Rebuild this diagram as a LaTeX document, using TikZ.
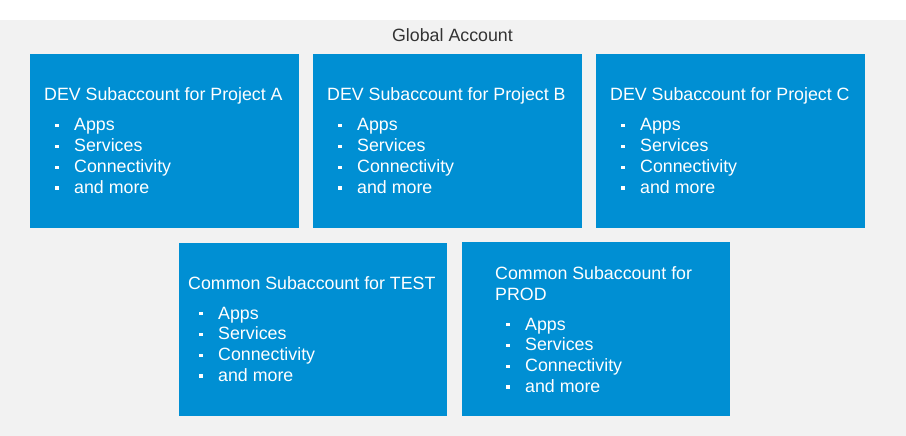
\documentclass[tikz,border=0pt]{standalone}
\usepackage{fontspec}
\setmainfont{Liberation Sans}
\definecolor{sapblue}{RGB}{0,143,211}
\definecolor{bggrey}{RGB}{242,242,242}
\definecolor{txtgrey}{RGB}{51,51,51}
\tikzset{
  acct/.style={fill=sapblue, draw=none, inner sep=0pt, anchor=north west},
  ttl/.style={text=white, anchor=base west, inner sep=0pt, font=\fontsize{17.8}{17.8}\selectfont},
  itm/.style={text=white, anchor=base west, inner sep=0pt, font=\fontsize{17.8}{17.8}\selectfont},
  bul/.style={fill=white, draw=none, minimum size=3.2pt, inner sep=0pt},
}
\newcommand{\itemlist}[4]{% name prefix, bullet x, text x, first baseline y
  \foreach \t [count=\i] in {Apps,Services,Connectivity,and more}{
    \node[itm] (#1i\i) at (#3, {-(#4+(\i-1)*20.8)}) {\t};
    \node[bul] (#1b\i) at (#2, {-(#4+(\i-1)*20.8-5.5)}) {};
  }
}
\begin{document}
\begin{tikzpicture}[x=1pt,y=1pt]
\useasboundingbox (0,0) rectangle (906,-436);
\fill[white] (0,0) rectangle (906,-436);
\fill[bggrey] (0,-20) rectangle (906,-436);
\node[text=txtgrey, anchor=base, inner sep=0pt, font=\fontsize{17.8}{17.8}\selectfont] (glob) at (452.5,-42) {Global Account};
% top row
\node[acct, minimum width=269pt, minimum height=174pt] (boxA) at (30,-54) {};
\node[acct, minimum width=269pt, minimum height=174pt] (boxB) at (313,-54) {};
\node[acct, minimum width=269pt, minimum height=174pt] (boxC) at (596,-54) {};
\node[ttl] (tA) at (44,-101) {DEV Subaccount for Project A};
\node[ttl] (tB) at (327,-101) {DEV Subaccount for Project B};
\node[ttl] (tC) at (610,-101) {DEV Subaccount for Project C};
\itemlist{A}{57}{74}{131}
\itemlist{B}{340}{357}{131}
\itemlist{C}{623}{640}{131}
% bottom row
\node[acct, minimum width=268pt, minimum height=173pt] (boxT) at (179,-243) {};
\node[acct, minimum width=268pt, minimum height=174pt] (boxP) at (462,-242) {};
\node[ttl] (tT) at (188,-289) {Common Subaccount for TEST};
\node[ttl] (tP1) at (495,-279) {Common Subaccount for};
\node[ttl] (tP2) at (495,-300) {PROD};
\itemlist{T}{201}{218}{319}
\itemlist{P}{508}{525}{330}
\end{tikzpicture}
\end{document}
